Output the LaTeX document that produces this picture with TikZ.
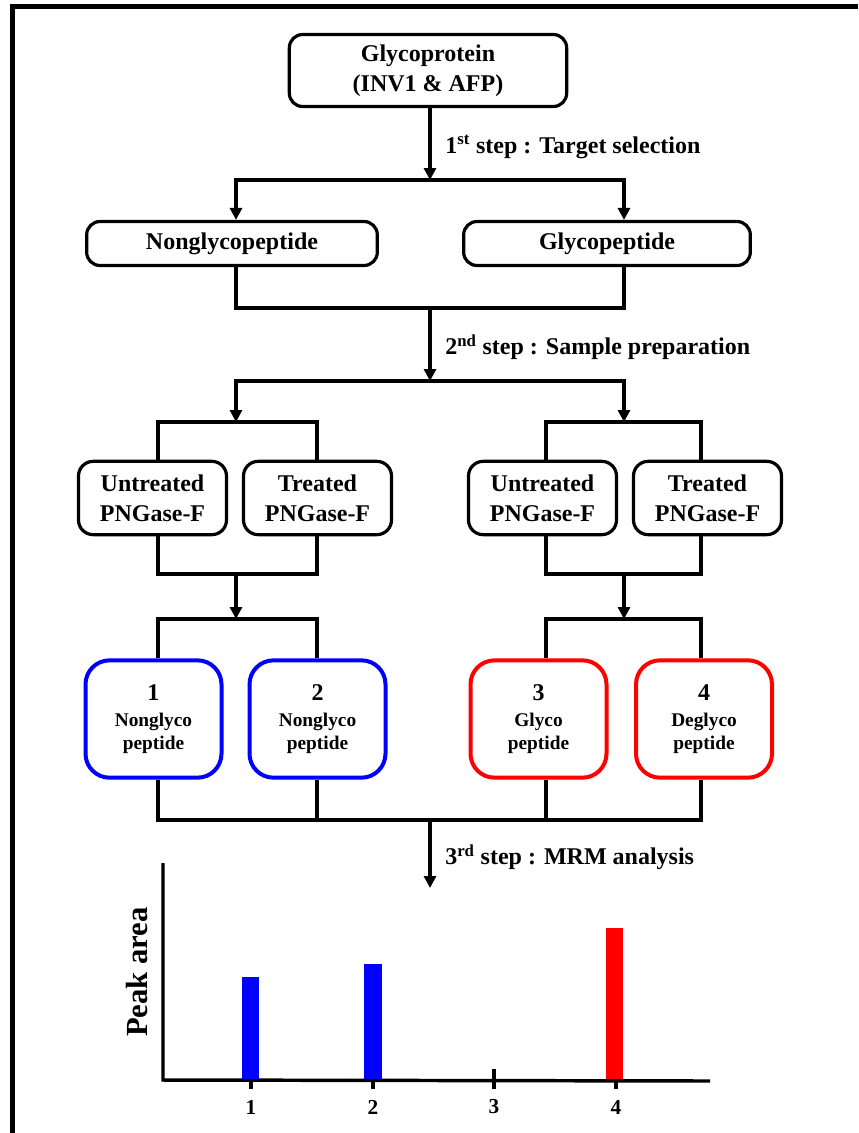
\documentclass[tikz,border=0pt]{standalone}
\usepackage{fontspec}
\setmainfont{Liberation Serif}
\usetikzlibrary{arrows.meta}
\definecolor{pepblue}{RGB}{0,0,255}
\definecolor{pepred}{RGB}{255,0,0}
\tikzset{
    box/.style={draw, line width=2.4pt, rounded corners=10pt, align=center, inner sep=0pt,
        font=\bfseries\fontsize{18}{22.5}\selectfont},
    pep/.style={draw, line width=3pt, rounded corners=18pt, align=center, inner sep=0pt,
        minimum width=102pt, minimum height=88pt, font=\bfseries\fontsize{14.5}{17}\selectfont},
    conn/.style={line width=2.3pt},
    arr/.style={conn, -{Triangle[length=9pt,width=9pt]}},
    steplabel/.style={anchor=west, inner sep=0pt, font=\bfseries\fontsize{18}{22}\selectfont},
    axlabel/.style={inner sep=0pt, font=\bfseries\fontsize{16}{18}\selectfont},
}
\begin{document}
\begin{tikzpicture}[x=0.75pt,y=-0.75pt]
    \useasboundingbox (0,0) rectangle (858,1133);
    \draw[line width=3.75pt] (12.5,1133) -- (12.5,6.5) -- (858,6.5);

    \node[box, minimum width=208pt, minimum height=54pt] (glyco) at (428,70.5) {Glycoprotein\\(INV1 \& AFP)};
    \node[box, minimum width=218pt, minimum height=33pt] (nong) at (232,243.5) {Nonglycopeptide};
    \node[box, minimum width=215pt, minimum height=33pt] (glycp) at (607,243.5) {Glycopeptide};

    \node[box, minimum width=111pt, minimum height=55pt, rounded corners=11pt] (ut1) at (152.5,498) {Untreated\\PNGase-F};
    \node[box, minimum width=111pt, minimum height=55pt, rounded corners=11pt] (tr1) at (317.5,498) {Treated\\PNGase-F};
    \node[box, minimum width=111pt, minimum height=55pt, rounded corners=11pt] (ut2) at (542.5,498) {Untreated\\PNGase-F};
    \node[box, minimum width=111pt, minimum height=55pt, rounded corners=11pt] (tr2) at (707.5,498) {Treated\\PNGase-F};

    \node[pep, draw=pepblue] (pep1) at (153.5,719) {{\fontsize{18}{20}\selectfont 1}\\[3pt]Nonglyco\\peptide};
    \node[pep, draw=pepblue] (pep2) at (317.5,719) {{\fontsize{18}{20}\selectfont 2}\\[3pt]Nonglyco\\peptide};
    \node[pep, draw=pepred] (pep3) at (538.5,719) {{\fontsize{18}{20}\selectfont 3}\\[3pt]Glyco\\peptide};
    \node[pep, draw=pepred] (pep4) at (704,719) {{\fontsize{18}{20}\selectfont 4}\\[3pt]Deglyco\\peptide};

    \coordinate (cL) at (236,0);
    \coordinate (cR) at (624,0);
    \coordinate (k1) at (158,0);
    \coordinate (k2) at (317,0);
    \coordinate (k3) at (546,0);
    \coordinate (k4) at (701,0);

    \coordinate (split1) at (430,180);
    \coordinate (join2) at (430,308);
    \coordinate (split2) at (430,381);
    \coordinate (brL) at (236,422);
    \coordinate (brR) at (624,422);
    \coordinate (joinL) at (236,574);
    \coordinate (joinR) at (624,574);
    \coordinate (pairL) at (236,619);
    \coordinate (pairR) at (624,619);
    \coordinate (join4) at (430,820);
    \coordinate (mrm) at (430,888);

    \draw[arr] (glyco.south -| split1) -- (split1);
    \draw[arr] (split1) -| (nong.north -| cL);
    \draw[arr] (split1) -| (glycp.north -| cR);
    \node[steplabel] (step1) at (445,147) {1\textsuperscript{st} step : Target selection};

    \draw[conn] (nong.south -| cL) |- (join2) -| (glycp.south -| cR);
    \draw[arr] (join2) -- (split2);
    \draw[arr] (split2) -| (brL);
    \draw[arr] (split2) -| (brR);
    \node[steplabel] (step2) at (445,347) {2\textsuperscript{nd} step : Sample preparation};

    \draw[conn] (ut1.north -| k1) |- (brL) -| (tr1.north -| k2);
    \draw[conn] (ut2.north -| k3) |- (brR) -| (tr2.north -| k4);
    \draw[conn] (ut1.south -| k1) |- (joinL) -| (tr1.south -| k2);
    \draw[conn] (ut2.south -| k3) |- (joinR) -| (tr2.south -| k4);
    \draw[arr] (joinL) -- (pairL);
    \draw[arr] (joinR) -- (pairR);
    \draw[conn] (pep1.north -| k1) |- (pairL) -| (pep2.north -| k2);
    \draw[conn] (pep3.north -| k3) |- (pairR) -| (pep4.north -| k4);

    \draw[conn] (pep1.south -| k1) |- (join4) -| (pep4.south -| k4);
    \draw[conn] (pep2.south -| k2) -- (k2 |- join4);
    \draw[conn] (pep3.south -| k3) -- (k3 |- join4);
    \draw[arr] (join4) -- (mrm);
    \node[steplabel] (step3) at (445,857) {3\textsuperscript{rd} step : MRM analysis};

    \draw[line width=2.6pt] (163,863) -- (163,1080) -- (710,1081);
    \foreach \x/\n in {251/1,373/2,494/3,616/4} {
        \draw[line width=2.6pt] (\x,1069) -- (\x,1089);
        \node[axlabel] (tick\n) at (\x,1107) {\n};
    }
    \fill[pepblue] (242,1079) rectangle (259,977);
    \fill[pepblue] (364,1079) rectangle (382,964);
    \fill[pepred] (606,1079) rectangle (623,928);
    \node[rotate=90, inner sep=0pt, font=\bfseries\fontsize{23}{26}\selectfont] (ylab) at (137,972) {Peak area};
\end{tikzpicture}
\end{document}
